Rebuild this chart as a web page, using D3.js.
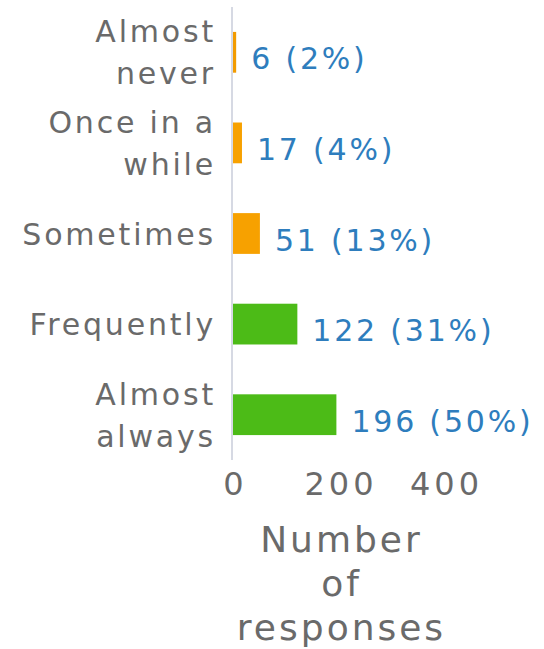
<!DOCTYPE html>
<html><head><meta charset="utf-8">
<script src="https://cdn.jsdelivr.net/npm/d3@7"></script>
<style>body{margin:0;background:#fff}svg{display:block}</style>
</head><body>
<script>
const categories = ["Almost never", "Once in a while", "Sometimes", "Frequently", "Almost always"];
const categoryLines = [["Almost", "never"], ["Once in a", "while"], ["Sometimes"], ["Frequently"], ["Almost", "always"]];
const counts = [6, 17, 51, 122, 196];
const percents = [2, 4, 13, 31, 50];
const barColors = ["#f29b00", "#f7a100", "#f7a100", "#4cbb17", "#4cbb17"];
const xTicks = [0, 200, 400];
const axisTitle = ["Number", "of", "responses"];

const W = 544, H = 649;
const svg = d3.select("body").append("svg").attr("width", W).attr("height", H);

const x = d3.scaleLinear().domain([0, 400]).range([233, 444]);
const y = d3.scaleBand().domain(categories).range([7, 460]).paddingInner(0.55).paddingOuter(0.275);

const textGray = "#6a6a6a";
const font = "DejaVu Sans, sans-serif";

// bars
svg.append("g").selectAll("rect").data(categories).join("rect")
  .attr("x", x(0))
  .attr("y", d => y(d))
  .attr("width", (d, i) => x(counts[i]) - x(0))
  .attr("height", y.bandwidth())
  .attr("fill", (d, i) => barColors[i]);

// y axis line
const yAxis = svg.append("g").attr("transform", `translate(${x(0) - 1},0)`)
  .call(d3.axisLeft(y).tickSize(0).tickFormat(""));
yAxis.select(".domain").attr("stroke", "#d6d9e3").attr("stroke-width", 2).attr("d", "M0,7V460");

// category labels
const cat = svg.append("g").selectAll("text").data(categories).join("text")
  .attr("text-anchor", "end")
  .attr("font-family", font).attr("font-size", 30).attr("letter-spacing", 2.8)
  .attr("fill", textGray);
cat.each(function(d, i) {
  const lines = categoryLines[i];
  const cy = y(d) + y.bandwidth() / 2;
  const lh = 42;
  const t = d3.select(this);
  lines.forEach((ln, j) => {
    t.append("tspan").attr("x", 216)
      .attr("y", cy + (j - (lines.length - 1) / 2) * lh + 11)
      .text(ln);
  });
});

// value labels
svg.append("g").selectAll("text").data(categories).join("text")
  .attr("x", (d, i) => x(counts[i]) + 15)
  .attr("y", d => y(d) + y.bandwidth() / 2 + 17)
  .attr("font-family", font).attr("font-size", 30).attr("letter-spacing", 2.8)
  .attr("fill", "#2e7dbd")
  .text((d, i) => `${counts[i]} (${percents[i]}%)`);

// x axis
const xAxis = svg.append("g").attr("transform", "translate(0,460)")
  .call(d3.axisBottom(x).tickValues(xTicks).tickSize(0).tickPadding(12).tickFormat(d3.format("d")));
xAxis.select(".domain").remove();
xAxis.selectAll("text").attr("font-family", font).attr("font-size", 32)
  .attr("letter-spacing", 4).attr("dx", 2).attr("fill", textGray);

// axis title
const title = svg.append("text").attr("text-anchor", "middle")
  .attr("font-family", font).attr("font-size", 36).attr("letter-spacing", 3).attr("fill", textGray);
axisTitle.forEach((ln, j) => {
  title.append("tspan").attr("x", (x(0) + x(400)) / 2 + 3).attr("y", 552 + j * 44).text(ln);
});
</script>
</body></html>
